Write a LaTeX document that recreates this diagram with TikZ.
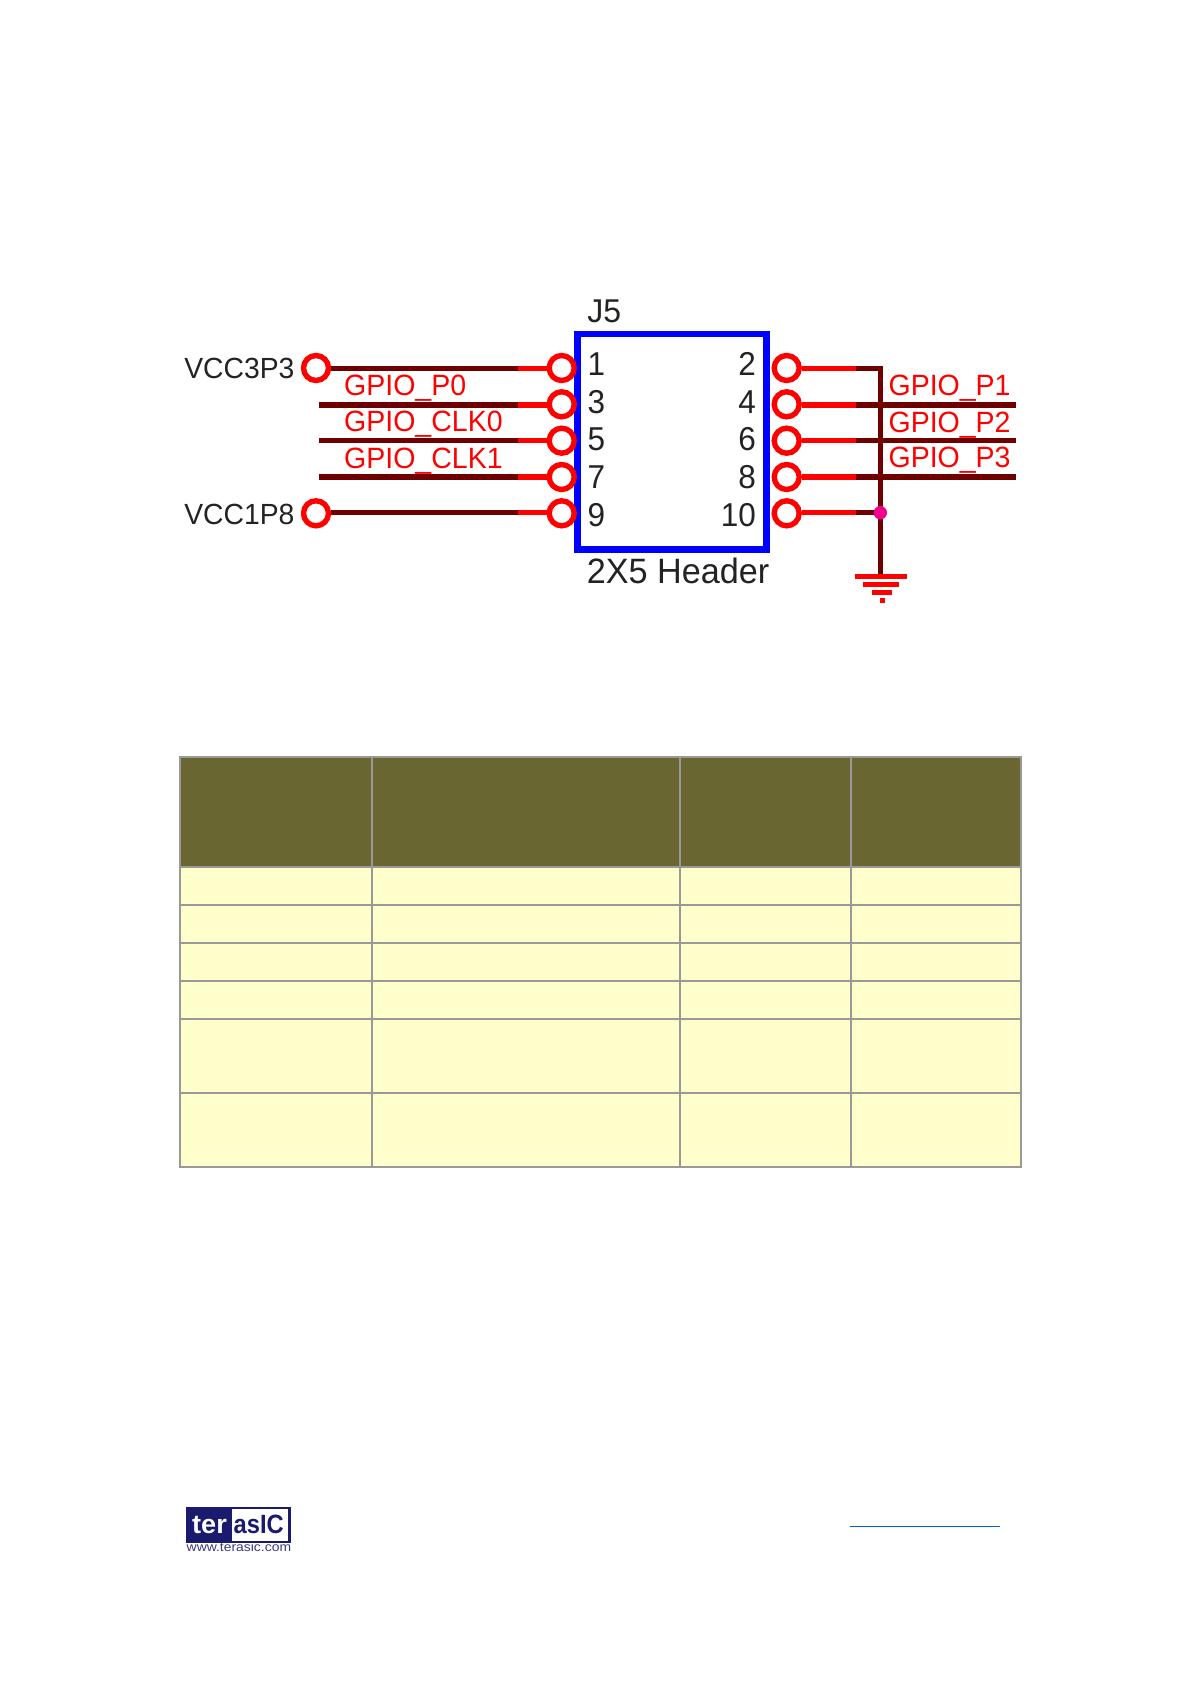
\documentclass[tikz,border=0pt]{standalone}
\usepackage{fontspec}
\usepackage{graphicx}
\setmainfont{Liberation Sans}
\definecolor{wirered}{RGB}{255,0,0}
\definecolor{wiredark}{RGB}{112,0,0}
\definecolor{boxblue}{RGB}{0,0,255}
\definecolor{junct}{RGB}{240,0,140}
\definecolor{inkdark}{RGB}{35,35,35}
\definecolor{tablehead}{RGB}{105,102,50}
\definecolor{tablebody}{RGB}{255,255,204}
\definecolor{tablegrid}{RGB}{153,153,153}
\definecolor{logonavy}{RGB}{26,26,110}
\definecolor{linkblue}{RGB}{5,99,193}
\newcommand{\tallish}[1]{\scalebox{1}[1.03]{#1}}
\newcommand{\taller}[1]{\scalebox{1}[1.05]{#1}}
\tikzset{
  pinring/.style={circle,draw=wirered,line width=5.4pt,fill=none,minimum size=25pt,inner sep=0pt},
  redwire/.style={draw=wirered,line width=5.4pt},
  darkwire/.style={draw=wiredark,line width=5.4pt},
  thinred/.style={draw=wirered,line width=4.7pt},
  thindark/.style={draw=wiredark,line width=4.7pt},
  netlabel/.style={anchor=base west,inner sep=0pt,text=wirered,font=\fontsize{28.5}{30}\selectfont},
  powlabel/.style={anchor=base east,inner sep=0pt,text=inkdark,font=\fontsize{28.3}{30}\selectfont},
  pinL/.style={anchor=base west,inner sep=0pt,text=inkdark,font=\fontsize{31.5}{33}\selectfont},
  pinR/.style={anchor=base east,inner sep=0pt,text=inkdark,font=\fontsize{31.5}{33}\selectfont},
  gridcell/.style={draw=tablegrid,line width=2pt},
}
\begin{document}
\begin{tikzpicture}[x=1pt,y=-1pt]
\useasboundingbox (0,0) rectangle (1192,1685);
\fill[white] (0,0) rectangle (1192,1685);
% connector box
\node[draw=boxblue,line width=6.5pt,minimum width=189.2pt,minimum height=215.7pt,inner sep=0pt,outer sep=0pt] (hdr) at (672,441.85) {};
\node[pinL,font=\fontsize{32}{33}\selectfont] (j5) at (587.2,323) {\tallish{J5}};
\node[pinL,font=\fontsize{34.2}{35}\selectfont] (hdrname) at (586.7,583.5) {\tallish{2X5 Header}};
% pin numbers
\node[pinL] (n1) at (587.5,375) {\taller{1}};
\node[pinL] (n3) at (587.5,413) {\taller{3}};
\node[pinL] (n5) at (587.5,450.7) {\taller{5}};
\node[pinL] (n7) at (587.5,488) {\taller{7}};
\node[pinL] (n9) at (587.5,526) {\taller{9}};
\node[pinR] (n2) at (756,375) {\taller{2}};
\node[pinR] (n4) at (756,413) {\taller{4}};
\node[pinR] (n6) at (756,450.7) {\taller{6}};
\node[pinR] (n8) at (756,488) {\taller{8}};
\node[pinR] (n10) at (756,526) {\taller{10}};
% pin rings
\node[pinring] (p1) at (561.7,368) {};
\node[pinring] (p3) at (561.7,404.3) {};
\node[pinring] (p5) at (561.7,440.7) {};
\node[pinring] (p7) at (561.7,477) {};
\node[pinring] (p9) at (561.7,513.3) {};
\node[pinring] (p2) at (786.7,368) {};
\node[pinring] (p4) at (786.7,404.3) {};
\node[pinring] (p6) at (786.7,440.7) {};
\node[pinring] (p8) at (786.7,477) {};
\node[pinring] (p10) at (786.7,513.3) {};
\node[pinring] (vcc3) at (316,368) {};
\node[pinring] (vcc1) at (316,513.3) {};
% split points and free ends
\coordinate (l1) at (517.7,368.7);
\coordinate (l3) at (517.7,405);
\coordinate (l5) at (517.7,440.7);
\coordinate (l7) at (517.7,477);
\coordinate (l9) at (517.7,512.7);
\coordinate (f3) at (319,405);
\coordinate (f5) at (319,440.7);
\coordinate (f7) at (319,477);
\coordinate (r2) at (855.7,368.7);
\coordinate (r4) at (855.7,405);
\coordinate (r6) at (855.7,440.7);
\coordinate (r8) at (855.7,477);
\coordinate (r10) at (855.7,512.7);
\coordinate (e4) at (1015.7,405);
\coordinate (e6) at (1015.7,440.7);
\coordinate (e8) at (1015.7,477);
\coordinate (bus2) at (880.3,368.7);
\coordinate (gnd) at (880.3,574);
% left wires
\draw[thinred] (l1) -- (p1.west |- l1);
\draw[thindark] (vcc3.east |- l1) -- (l1);
\draw[redwire] (l3) -- (p3.west |- l3);
\draw[darkwire] (f3) -- (l3);
\draw[thinred] (l5) -- (p5.west |- l5);
\draw[thindark] (f5) -- (l5);
\draw[redwire] (l7) -- (p7.west |- l7);
\draw[darkwire] (f7) -- (l7);
\draw[thinred] (l9) -- (p9.west |- l9);
\draw[thindark] (vcc1.east |- l9) -- (l9);
% right wires
\draw[thinred] (p2.east |- r2) -- (r2);
\draw[redwire] (p4.east |- r4) -- (r4);
\draw[thinred] (p6.east |- r6) -- (r6);
\draw[redwire] (p8.east |- r8) -- (r8);
\draw[thinred] (p10.east |- r10) -- (r10);
\draw[thindark] (r2) -- (bus2) -- (gnd);
\draw[darkwire] (r4) -- (e4);
\draw[thindark] (r6) -- (e6);
\draw[darkwire] (r8) -- (e8);
\draw[thindark] (r10) -- (bus2 |- r10);
\node[circle,fill=junct,minimum size=13.4pt,inner sep=0pt] (jn) at (bus2 |- r10) {};
% ground symbol
\fill[wirered] (855,573.5) rectangle (907,578.5);
\fill[wirered] (863,581.5) rectangle (899,586.5);
\fill[wirered] (871.7,589.5) rectangle (892.3,594.5);
\fill[wirered] (880,597.5) rectangle (884.7,602.7);
% labels
\node[powlabel] (lv3) at (294.6,378.8) {\tallish{VCC3P3}};
\node[powlabel] (lv1) at (294.6,524.8) {\tallish{VCC1P8}};
\node[netlabel] (g0) at (344,395.5) {\tallish{GPIO\_P0}};
\node[netlabel] (gc0) at (344,431.2) {\tallish{GPIO\_CLK0}};
\node[netlabel] (gc1) at (344,468.5) {\tallish{GPIO\_CLK1}};
\node[netlabel] (g1) at (888.4,395.5) {\tallish{GPIO\_P1}};
\node[netlabel] (g2) at (888.4,432.2) {\tallish{GPIO\_P2}};
\node[netlabel] (g3) at (888.4,467.5) {\tallish{GPIO\_P3}};
% table
\fill[tablehead] (179.6,756.7) rectangle (1021.4,867);
\fill[tablebody] (179.6,867) rectangle (1021.4,1166.7);
\foreach \yy in {756.7,867,905,942.7,980.7,1018.7,1092.7,1166.7}
  \draw[gridcell] (178.6,\yy) -- (1022.4,\yy);
\foreach \xx in {179.6,372,680,850.8,1021.4}
  \draw[gridcell] (\xx,755.7) -- (\xx,1167.7);
% footer logo
\fill[logonavy] (186,1506.7) rectangle (291,1542.7);
\fill[white] (231.7,1509) rectangle (288.3,1540.7);
\node[anchor=base west,inner sep=0pt,text=white,font=\bfseries\fontsize{23}{24}\selectfont] (lter) at (192,1533.3) {\scalebox{1.18}[1.15]{ter}};
\node[anchor=base west,inner sep=0pt,text=logonavy,font=\bfseries\fontsize{23}{24}\selectfont] (lasic) at (233.5,1533.3) {\scalebox{1.03}[1.15]{asIC}};
\node[anchor=base west,inner sep=0pt,text=logonavy!85!white,font=\fontsize{12}{12}\selectfont] (lwww) at (186.5,1551.7) {\scalebox{1.16}[1.05]{www.terasic.com}};
\draw[draw=linkblue,line width=1.5pt] (849.7,1526.3) -- (999.8,1526.3);
\end{tikzpicture}
\end{document}
